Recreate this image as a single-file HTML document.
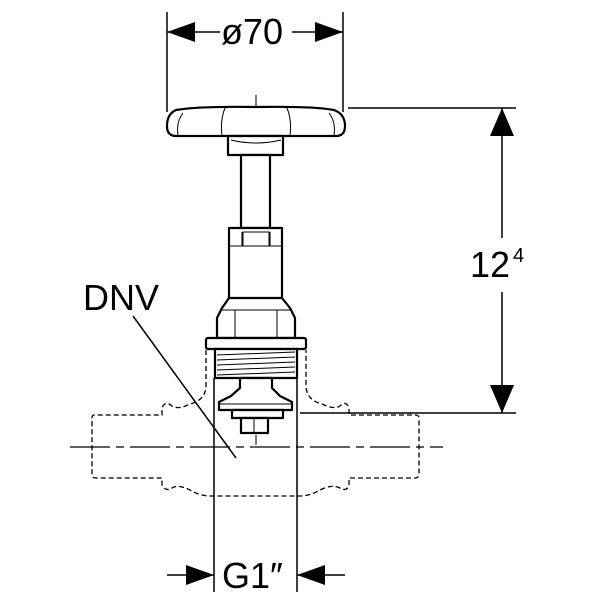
<!DOCTYPE html>
<html><head><style>body{margin:0;background:#fff}svg{display:block}text{font-family:"Liberation Sans",sans-serif;fill:#000}</style></head>
<body>
<svg width="600" height="600" viewBox="0 0 600 600" xmlns="http://www.w3.org/2000/svg">
<g stroke="#000" fill="none" stroke-width="1.5">
<line x1="167" y1="12" x2="167" y2="112"/>
<line x1="343" y1="12" x2="343" y2="112"/>
<line x1="167" y1="32" x2="220" y2="32"/>
<line x1="292" y1="32" x2="343" y2="32"/>
<line x1="348" y1="108" x2="516" y2="108"/>
<line x1="300" y1="413" x2="516" y2="413"/>
<line x1="502" y1="108" x2="502" y2="238"/>
<line x1="502" y1="292" x2="502" y2="413"/>
<line x1="214" y1="378" x2="214" y2="592"/>
<line x1="297" y1="378" x2="297" y2="592"/>
<line x1="167" y1="575" x2="214" y2="575"/>
<line x1="297" y1="575" x2="345" y2="575"/>
<line x1="133" y1="316" x2="236" y2="458"/>
<line x1="256" y1="95" x2="256" y2="445" stroke-width="1" stroke-dasharray="22,4,4,4"/>
<line x1="70" y1="447" x2="443" y2="447" stroke-width="1.2" stroke-dasharray="40,6,8,6"/>
<path stroke-dasharray="5,3" stroke-width="1.3" d="M206 350 L206 385 Q206 400 190 404 Q178 410 172 406 Q165 400 162 408 L162 415 L94 415 Q92 415 92 418 L92 475 Q92 478 96 478 L162 478 L162 485 Q165 492 172 488 Q178 484 190 490 Q200 496 210 496 L300 496 Q310 496 320 490 Q332 484 340 488 Q347 492 349 485 L349 478 L415 478 Q419 478 419 474 L419 418 Q419 415 415 415 L349 415 L349 408 Q346 400 340 406 Q334 410 322 404 Q306 400 306 385 L306 350"/>
</g>
<g fill="#000">
<polygon points="167,32 195,22 195,42"/>
<polygon points="343,32 315,22 315,42"/>
<polygon points="502,108 490,136 514,136"/>
<polygon points="502,413 490,385 514,385"/>
<polygon points="214,575 186,565 186,585"/>
<polygon points="297,575 325,565 325,585"/>
</g>
<g stroke="#000" fill="#fff" stroke-width="2.2" stroke-linejoin="round">
<path d="M176 110 Q200 106 256 107 Q312 106 334 110 Q345 114 345 126 Q345 136 336 136 L176 136 Q167 136 167 126 Q167 114 176 110 Z"/>
<rect x="228" y="136" width="55" height="19"/>
<rect x="241" y="155" width="29" height="73"/>
<rect x="229" y="228" width="53" height="75"/>
<path d="M229 298 L282 298 L290 308 L295 318 L295 338 L217 338 L217 318 L222 308 Z"/>
<rect x="206" y="338" width="100" height="11" rx="2"/>
<rect x="215" y="349" width="82" height="29"/>
<path d="M240 378 L272 378 L272 388 L280 396 L292 402 L292 410 L219 410 L219 402 L231 396 L240 388 Z"/>
<rect x="232" y="410" width="51" height="8"/>
<rect x="241" y="418" width="27" height="15"/>
</g>
<g stroke="#000" fill="none" stroke-width="1">
<path d="M183 113 Q176 122 178 135 M329 113 Q336 122 334 135 M225 108 Q220 120 222 136 M287 108 Q292 120 290 136"/>
<path d="M231 140 Q256 146 281 140"/>
<line x1="242" y1="232" x2="242" y2="246"/><line x1="270" y1="232" x2="270" y2="246"/>
<line x1="229" y1="246" x2="282" y2="246"/><rect x="243" y="232" width="26" height="14"/>
<line x1="235" y1="310" x2="235" y2="338"/><line x1="277" y1="310" x2="277" y2="338"/>
<path d="M222 310 L290 310"/>
<path d="M217 355 L295 352 M217 360 L295 357 M217 365 L295 362 M217 370 L295 367 M217 375 L295 372"/>
<line x1="219" y1="404" x2="292" y2="404"/>
<line x1="254" y1="418" x2="254" y2="433"/>
</g>
<text x="221" y="44" font-size="36">ø70</text>
<text x="470" y="277" font-size="36">12</text>
<text x="513" y="262" font-size="20">4</text>
<text x="83" y="310" font-size="36">DNV</text>
<text x="222" y="588" font-size="36">G1″</text>
</svg>
</body></html>
